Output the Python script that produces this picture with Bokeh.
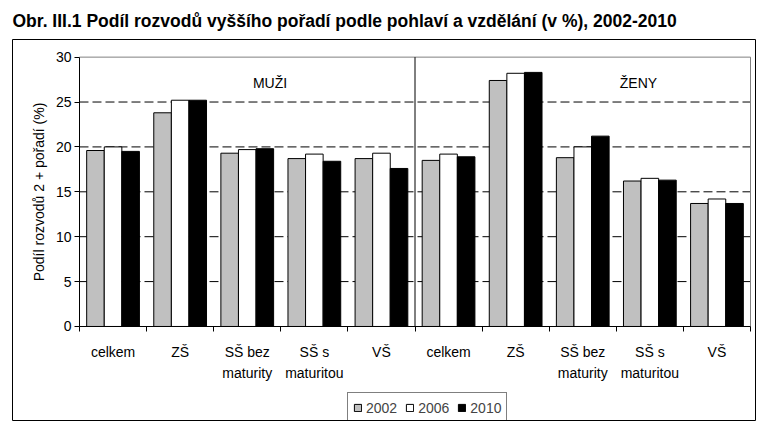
import numpy as np
from bokeh.plotting import figure
from bokeh.models import (Range1d, FixedTicker, Label, Legend, LegendItem,
                          ColumnDataSource)
from bokeh.embed import file_html
from bokeh.resources import INLINE

# ---- data -------------------------------------------------------------
categories = ["celkem", "ZŠ", "SŠ bez\nmaturity", "SŠ s\nmaturitou", "VŠ",
              "celkem", "ZŠ", "SŠ bez\nmaturity", "SŠ s\nmaturitou", "VŠ"]
panels = ["MUŽI", "ŽENY"]
years = ["2002", "2006", "2010"]
v2002 = [19.6, 23.8, 19.3, 18.7, 18.7, 18.5, 27.4, 18.8, 16.2, 13.7]
v2006 = [20.0, 25.2, 19.7, 19.2, 19.3, 19.2, 28.2, 20.0, 16.5, 14.2]
v2010 = [19.5, 25.2, 19.8, 18.4, 17.6, 18.9, 28.3, 21.2, 16.3, 13.7]
y_ticks = [0, 5, 10, 15, 20, 25, 30]
title_text = "Obr. III.1 Podíl rozvodů vyššího pořadí podle pohlaví a vzdělání (v %), 2002-2010"
y_label = "Podíl rozvodů 2 + pořadí (%)"

FONT = "Liberation Sans"
n = len(categories)
x_lo, x_hi = -0.5, n - 0.5
y_lo, y_hi = y_ticks[0], y_ticks[-1]

# the frame is the outer box of the chart; axes are pinned inside it
p = figure(width=756, height=421, output_backend="svg", toolbar_location=None,
           x_range=Range1d(-1.4985, 9.5745), y_range=Range1d(-10.473, 31.964),
           min_border_left=12, min_border_right=1, min_border_top=31,
           min_border_bottom=1)
p.outline_line_color = "black"
p.outline_line_width = 1
p.background_fill_color = "white"
p.border_fill_color = "white"
p.xgrid.visible = False
p.ygrid.visible = False

# title
p.title.text = title_text
p.title.text_font = FONT
p.title.text_font_size = "17.5px"
p.title.text_font_style = "bold"
p.title.text_color = "black"
p.title.align = "left"
p.title.offset = 0
p.title.standoff = 17

x = np.arange(n)
w = 0.262

# dashed grid lines, top and right border of the plot area, panel separator
grid_y = [t for t in y_ticks if y_lo < t < y_hi]
p.segment(x0=[x_lo] * len(grid_y), x1=[x_hi] * len(grid_y), y0=grid_y, y1=grid_y,
          line_color="black", line_dash="9 4", line_width=1)
p.segment(x0=[x_lo, x_hi], x1=[x_hi, x_hi], y0=[y_hi, y_lo], y1=[y_hi, y_hi],
          line_color="#808080", line_width=1)

src = ColumnDataSource(dict(x0=x - w, x1=x, x2=x + w,
                            v2002=v2002, v2006=v2006, v2010=v2010))
r1 = p.vbar(x="x0", top="v2002", width=w, source=src,
            fill_color="#c0c0c0", line_color="black", line_width=1)
r2 = p.vbar(x="x1", top="v2006", width=w, source=src,
            fill_color="white", line_color="black", line_width=1)
r3 = p.vbar(x="x2", top="v2010", width=w, source=src,
            fill_color="black", line_color="black", line_width=1)

p.segment(x0=[n / 2 - 0.5], x1=[n / 2 - 0.5], y0=[y_lo], y1=[y_hi],
          line_color="black", line_width=1)

# y axis
p.yaxis.fixed_location = x_lo
p.yaxis.bounds = (y_lo, y_hi)
p.yaxis.ticker = FixedTicker(ticks=y_ticks)
p.yaxis.major_tick_out = 5
p.yaxis.major_tick_in = 0
p.yaxis.minor_tick_line_color = None
p.yaxis.axis_line_color = "black"
p.yaxis.major_label_standoff = 3
p.yaxis.major_label_text_font = FONT
p.yaxis.major_label_text_font_size = "14px"
p.yaxis.major_label_text_color = "black"
p.yaxis.axis_label = y_label
p.yaxis.axis_label_text_font = FONT
p.yaxis.axis_label_text_font_style = "normal"
p.yaxis.axis_label_text_font_size = "14px"
p.yaxis.axis_label_text_color = "black"
p.yaxis.axis_label_standoff = 6

# x axis
p.xaxis.fixed_location = y_lo
p.xaxis.bounds = (x_lo, x_hi)
p.xaxis.ticker = FixedTicker(ticks=list(x), minor_ticks=list(x - 0.5) + [x_hi])
p.xaxis.major_label_overrides = {int(i): c for i, c in zip(x, categories)}
p.xaxis.major_tick_out = 0
p.xaxis.major_tick_in = 0
p.xaxis.minor_tick_out = 5
p.xaxis.minor_tick_in = 0
p.xaxis.minor_tick_line_color = "black"
p.xaxis.axis_line_color = "black"
p.xaxis.major_label_standoff = 13
p.xaxis.major_label_text_font = FONT
p.xaxis.major_label_text_font_size = "14px"
p.xaxis.major_label_text_color = "black"
p.xaxis.major_label_text_line_height = 1.3

# panel labels
for px, txt in zip([2.34, 7.83], panels):
    p.add_layout(Label(x=px, y=27.1, text=txt, text_align="center",
                       text_baseline="middle", text_font=FONT,
                       text_font_size="14px", text_color="black"))

# legend
legend = Legend(items=[LegendItem(label=yr, renderers=[r])
                       for yr, r in zip(years, [r1, r2, r3])],
                orientation="horizontal", location=(335, -3),
                label_text_font=FONT, label_text_font_size="14px",
                glyph_width=9, glyph_height=9, label_standoff=4,
                spacing=8, padding=5, margin=0, label_height=19,
                border_line_color="black", border_line_width=1,
                background_fill_color="white", background_fill_alpha=1)
p.add_layout(legend, "center")

with open("out.html", "w", encoding="utf-8") as f:
    f.write(file_html(p, INLINE))
